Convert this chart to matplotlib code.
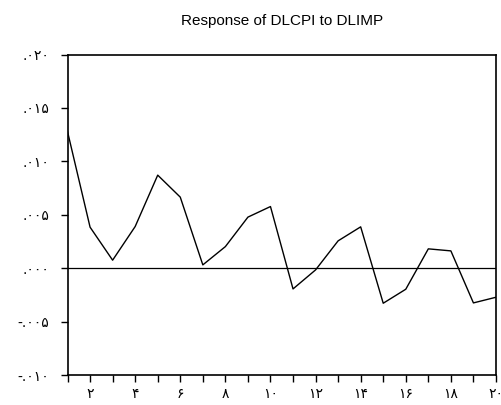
import numpy as np
import matplotlib.pyplot as plt

periods = list(range(1, 21))
response = [0.01279, 0.00384, 0.00075, 0.0039, 0.00871, 0.00665, 0.00031, 0.00202, 0.00478, 0.00577,
            -0.00194, -0.00016, 0.00256, 0.00387, -0.00328, -0.00197, 0.00181, 0.00162, -0.00325, -0.00272]

y_ticks = [-0.010, -0.005, 0.000, 0.005, 0.010, 0.015, 0.020]
y_labels = ['-.۰۱۰', '-.۰۰۵', '.۰۰۰', '.۰۰۵', '.۰۱۰', '.۰۱۵', '.۰۲۰']
x_labels = ['', '۲', '', '۴', '', '۶', '', '۸', '', '۱۰', '', '۱۲', '', '۱۴', '', '۱۶', '', '۱۸', '', '۲۰']

fig = plt.figure(figsize=(5.02, 4.05), dpi=100)
ax = fig.add_axes([0.1345, 0.074, 0.8535, 0.7914])

ax.plot(periods, response, color='black', linewidth=1.0)
ax.axhline(0, color='black', linewidth=0.9)

ax.set_xlim(1, 20)
ax.set_ylim(-0.010, 0.020)
ax.set_xticks(periods)
ax.set_xticklabels(x_labels, family='DejaVu Sans', fontsize=10)
ax.set_yticks(y_ticks)
ax.set_yticklabels(y_labels, family='DejaVu Sans', fontsize=10)
ax.tick_params(direction='out', length=5, width=1, color='black')
ax.tick_params(axis='y', pad=8)

for s in ax.spines.values():
    s.set_linewidth(1.2)

ax.set_title('Response of DLCPI to DLIMP', family='Liberation Sans', fontsize=11, pad=21)

fig.savefig('out.png', dpi=100)
